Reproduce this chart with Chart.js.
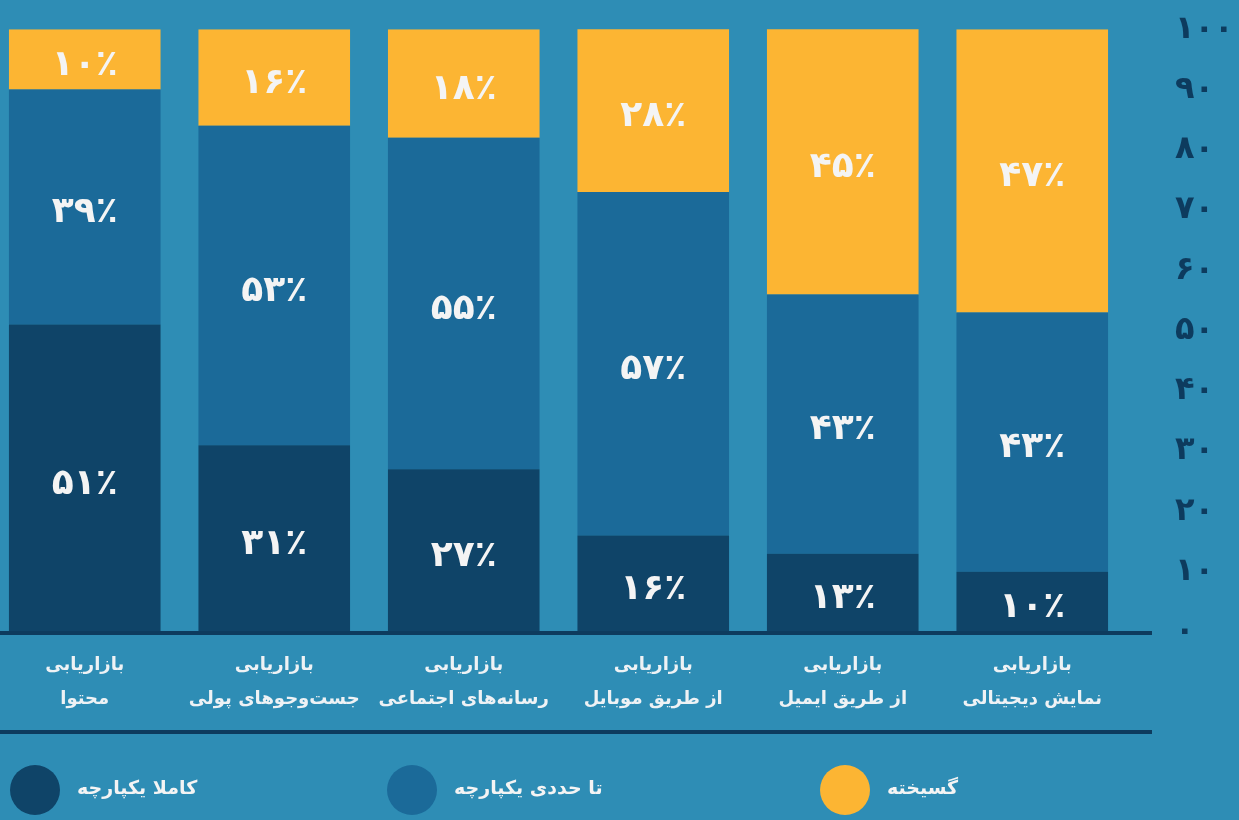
<!DOCTYPE html>
<html lang="fa">

<head>
    <meta charset="UTF-8">
    <title>بازاریابی</title>
    <script src="https://cdn.jsdelivr.net/npm/chart.js"></script>
    <style>
        html, body { margin: 0; padding: 0; background: #2e8db5; overflow: hidden; }
        #wrap { position: relative; width: 1239px; height: 820px; overflow: hidden; }
        #myChart { position: absolute; left: -10px; top: -38px; }
    </style>
    <script>
        // دسته‌ها (دو خطی)
        const categories = [
            ['بازاریابی', 'محتوا'],
            ['بازاریابی', 'جست‌وجوهای پولی'],
            ['بازاریابی', 'رسانه‌های اجتماعی'],
            ['بازاریابی', 'از طریق موبایل'],
            ['بازاریابی', 'از طریق ایمیل'],
            ['بازاریابی', 'نمایش دیجیتالی']
        ];
        const seriesNames = ['کاملا یکپارچه', 'تا حددی یکپارچه', 'گسیخته'];
        const fullyIntegrated = [51, 31, 27, 16, 13, 10];
        const partlyIntegrated = [39, 53, 55, 57, 43, 43];
        const fragmented = [10, 16, 18, 28, 45, 47];
        const yTicks = [0, 10, 20, 30, 40, 50, 60, 70, 80, 90, 100];

        const colors = ['#0f4468', '#1b6a99', '#fcb533'];
        const lineColor = '#0d3b5e';

        function fa(n) {
            return String(n).replace(/[0-9]/g, d => '۰۱۲۳۴۵۶۷۸۹'[d]);
        }

        // canvas is shifted left / up inside the page
        const offX = 10, offY = 38;

        // برچسب درصد داخل هر بخش
        const valueLabels = {
            id: 'valueLabels',
            afterDatasetsDraw(chart) {
                const ctx = chart.ctx;
                ctx.save();
                ctx.font = 'bold 36px "DejaVu Sans"';
                ctx.fillStyle = '#f4f4f4';
                ctx.textAlign = 'center';
                ctx.textBaseline = 'middle';
                chart.data.datasets.forEach((ds, i) => {
                    chart.getDatasetMeta(i).data.forEach((bar, j) => {
                        const top = Math.max(bar.y, chart.chartArea.top);
                        const y = (top + bar.base) / 2 + 6;
                        ctx.fillText(fa(ds.data[j]) + '٪', bar.x, y);
                    });
                });
                ctx.restore();
            }
        };

        // خطوط افقی و راهنما
        const extras = {
            id: 'extras',
            afterDraw(chart) {
                const ctx = chart.ctx;
                ctx.save();
                ctx.fillStyle = lineColor;
                ctx.fillRect(0, 631 + offY, 1152 + offX, 4);
                ctx.fillRect(0, 730 + offY, 1152 + offX, 4);

                const cx = [35, 412, 845];
                ctx.font = 'bold 19px "DejaVu Sans"';
                ctx.textBaseline = 'middle';
                ctx.textAlign = 'left';
                chart.data.datasets.forEach((ds, i) => {
                    ctx.fillStyle = ds.backgroundColor;
                    ctx.beginPath();
                    ctx.arc(cx[i] + offX, 790 + offY, 25, 0, Math.PI * 2);
                    ctx.fill();
                    ctx.fillStyle = '#f4f4f4';
                    ctx.fillText(ds.label, cx[i] + offX + 42, 789 + offY);
                });
                ctx.restore();
            }
        };

        function createChart() {
            const ctx = document.getElementById('myChart').getContext('2d');
            const values = [fullyIntegrated, partlyIntegrated, fragmented];
            new Chart(ctx, {
                type: 'bar',
                data: {
                    labels: categories,
                    datasets: values.map((v, i) => ({
                        label: seriesNames[i],
                        data: v,
                        backgroundColor: colors[i],
                        borderWidth: 0,
                        barPercentage: 0.8,
                        categoryPercentage: 1
                    }))
                },
                options: {
                    responsive: false,
                    animation: false,
                    layout: { padding: 0 },
                    plugins: {
                        legend: { display: false },
                        tooltip: { enabled: false }
                    },
                    scales: {
                        x: {
                            stacked: true,
                            grid: { display: false, drawTicks: false },
                            border: { display: false },
                            ticks: {
                                color: '#eef2f5',
                                font: { family: 'DejaVu Sans', size: 18, weight: 'bold', lineHeight: 1.85 },
                                padding: 17,
                                maxRotation: 0
                            },
                            afterFit: s => { s.height = 188; }
                        },
                        y: {
                            stacked: true,
                            position: 'right',
                            min: 0,
                            max: 100,
                            afterBuildTicks: s => { s.ticks = yTicks.map(v => ({ value: v })); },
                            grid: { display: false, drawTicks: false },
                            border: { display: false },
                            ticks: {
                                color: lineColor,
                                font: { family: 'DejaVu Sans', size: 32, weight: 'bold' },
                                padding: 48,
                                callback: v => fa(v)
                            },
                            afterFit: s => { s.width = 112; }
                        }
                    }
                },
                plugins: [valueLabels, extras]
            });
        }

        document.addEventListener('DOMContentLoaded', createChart);
    </script>
</head>

<body>
    <div id="wrap">
        <canvas id="myChart" width="1249" height="858"></canvas>
    </div>
</body>

</html>
